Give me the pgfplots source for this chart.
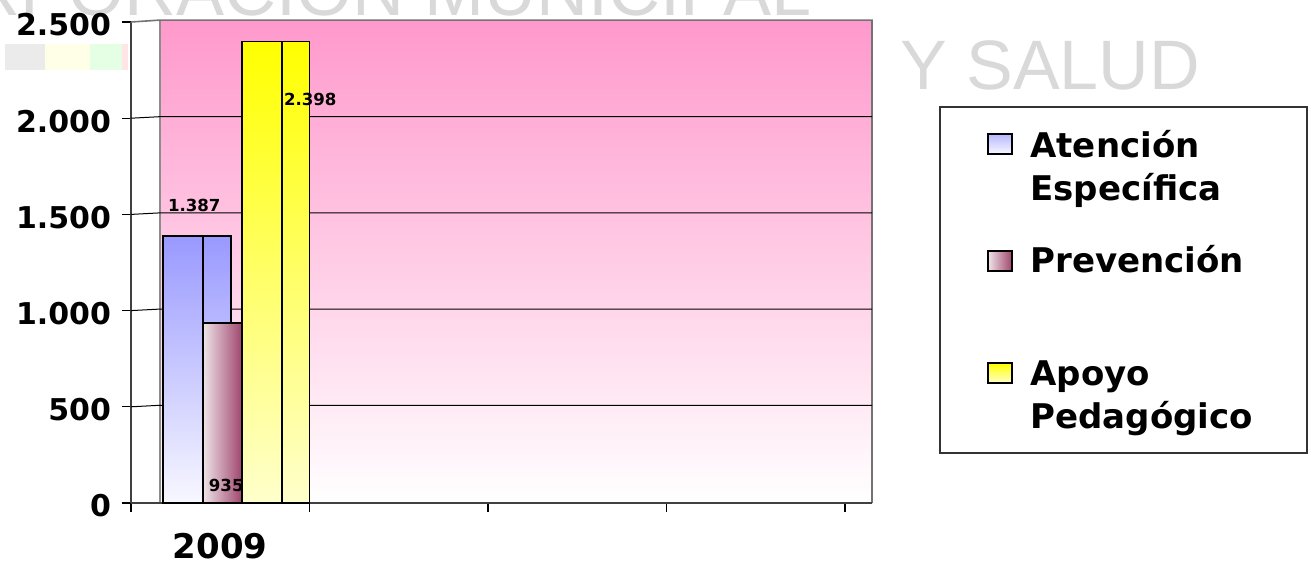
\documentclass[border=0pt]{standalone}
\usepackage{pgfplots}
\pgfplotsset{compat=1.18}
\usepackage{fontspec}
\setmainfont{DejaVu Sans}
\newfontfamily\wmfont{Liberation Sans}

\definecolor{wallpink}{HTML}{FF99CC}
\definecolor{barblue}{HTML}{9999FF}
\definecolor{bluelight}{HTML}{F8F8FF}
\definecolor{barmaroon}{HTML}{A0466E}
\definecolor{maroonlight}{HTML}{EEE4E8}
\definecolor{baryellow}{HTML}{FFFF00}
\definecolor{yellowlight}{HTML}{FFFFCC}

\begin{document}
\begin{tikzpicture}
% pixel grid of the reference: x to the right, y down
\begin{scope}[x=0.5pt,y=-0.5pt]
  \path[use as bounding box] (0,0) rectangle (1313,561);
  % faint watermark behind the chart
  \node[anchor=base east, inner sep=0, text=black!15,
        font=\wmfont\fontsize{36}{36}\selectfont] at (812,15) {CORPORACION MUNICIPAL};
  \node[anchor=base west, inner sep=0, text=black!15,
        font=\wmfont\fontsize{35}{35}\selectfont] at (900,89) {Y SALUD};
  \fill[black!8]  (5,44) rectangle (45,70);
  \fill[yellow!10] (45,44) rectangle (90,70);
  \fill[green!10] (90,44) rectangle (122,70);
  \fill[red!10]   (122,44) rectangle (128,70);
  % legend
  \draw[black!80, fill=white, line width=0.6pt] (940,107) rectangle (1307,453);
  \draw[black, line width=0.6pt, top color=barblue!70, bottom color=bluelight] (988,134) rectangle (1012,154);
  \draw[black, line width=0.6pt, left color=maroonlight, right color=barmaroon] (988,251) rectangle (1012,271);
  \draw[black, line width=0.6pt, top color=baryellow, bottom color=yellowlight] (988,363) rectangle (1012,383);
  \begin{scope}[every node/.style={anchor=base west, inner sep=0, font=\bfseries\fontsize{17}{17}\selectfont}]
    \node at (1030,157) {Atención};
    \node at (1030,200) {Específica};
    \node at (1030,272) {Prevención};
    \node at (1030,385) {Apoyo};
    \node at (1030,428) {Pedagógico};
  \end{scope}
  \coordinate (O) at (131,503);
\end{scope}

\begin{axis}[
  at={(O)}, anchor=south west, scale only axis,
  width=370.5pt, height=240.5pt,
  xmin=0, xmax=4.151, ymin=0, ymax=2500,
  clip=false,
  axis x line*=bottom, axis y line*=left,
  axis line style={-, draw=black!75, line width=1pt},
  tick align=outside, major tick length=4.5pt,
  tick style={black, line width=0.6pt},
  xtick={0,1,2,3,4}, xticklabels={},
  extra x ticks={0.5}, extra x tick labels={2009},
  extra x tick style={major tick length=0pt,
    xticklabel style={font=\bfseries\fontsize{17}{17}\selectfont, yshift=-11.5pt}},
  ytick={0,500,1000,1500,2000,2500},
  scaled y ticks=false,
  /pgf/number format/1000 sep={.},
  /pgf/number format/assume math mode=true,
  yticklabel style={font=\bfseries\fontsize{15}{15}\selectfont, xshift=-2pt, yshift=-1.5pt},
]
% back wall
\fill[top color=wallpink, bottom color=white] (0.1625,0) rectangle (4.151,2510);
\draw[black!45, line width=1pt] (0.1625,0) -- (0.1625,2510);
\draw[black!55, line width=0.8pt] (0,2500) -- (0.1625,2510) -- (4.151,2510) -- (4.151,0);
% gridlines on the wall
\draw[black, line width=0.5pt] (0,500) -- (0.1625,508) -- (4.151,508);
\draw[black, line width=0.5pt] (0,1000) -- (0.1625,1008) -- (4.151,1008);
\draw[black, line width=0.5pt] (0,1500) -- (0.1625,1508) -- (4.151,1508);
\draw[black, line width=0.5pt] (0,2000) -- (0.1625,2008) -- (4.151,2008);
\draw[black!75, line width=1.2pt] (0,0) -- (4.151,0);

% Atención Específica (side face, then front face)
\addplot[ybar, bar width=0.157, bar shift=-0.0185, draw=black, line width=0.75pt,
  top color=barblue, bottom color=bluelight] coordinates {(0.5,1387)};
\addplot[ybar, bar width=0.224, bar shift=-0.209, draw=black, line width=0.75pt,
  top color=barblue, bottom color=bluelight,
  nodes near coords,
  every node near coord/.append style={anchor=center, xshift=-13pt, yshift=15.5pt,
    font=\bfseries\fontsize{8.3}{8.3}\selectfont}] coordinates {(0.5,1387)};
% Prevención
\addplot[ybar, bar width=0.219, bar shift=0.0125, draw=black, line width=0.75pt,
  left color=maroonlight, right color=barmaroon,
  nodes near coords,
  every node near coord/.append style={anchor=center, xshift=3pt, yshift=-81.25pt,
    font=\bfseries\fontsize{8.3}{8.3}\selectfont}] coordinates {(0.5,935)};
% Apoyo Pedagógico
\addplot[ybar, bar width=0.154, bar shift=0.423, draw=black, line width=0.75pt,
  top color=baryellow, bottom color=yellowlight] coordinates {(0.5,2398)};
\addplot[ybar, bar width=0.224, bar shift=0.234, draw=black, line width=0.75pt,
  top color=baryellow, bottom color=yellowlight,
  nodes near coords,
  every node near coord/.append style={anchor=center, xshift=45pt, yshift=-28.7pt,
    font=\bfseries\fontsize{8.3}{8.3}\selectfont}] coordinates {(0.5,2398)};
\end{axis}
\end{tikzpicture}
\end{document}
